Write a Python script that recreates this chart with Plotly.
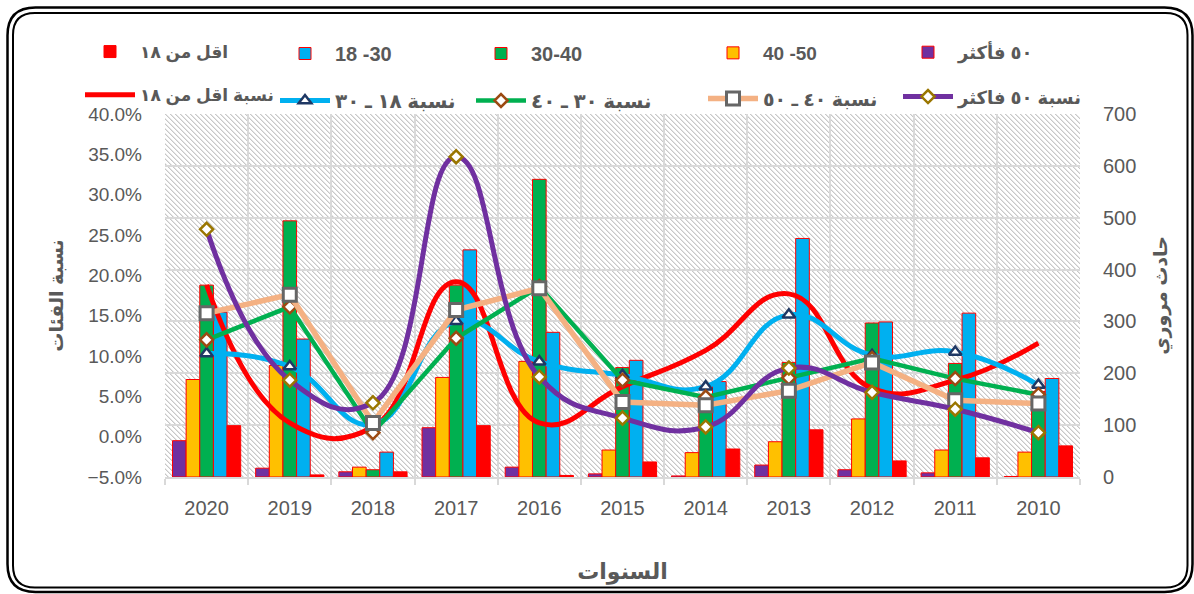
import base64
import struct
import zlib
import plotly.graph_objects as go

# ---------------------------------------------------------------- data
years = ["2020", "2019", "2018", "2017", "2016", "2015",
         "2014", "2013", "2012", "2011", "2010"]

# number of traffic accidents per driver age group (right axis)
count_50_plus = [70, 17, 10, 95, 19, 6, 2, 23, 14, 8, 1]
count_40_50 = [188, 215, 19, 192, 223, 52, 47, 68, 112, 52, 48]
count_30_40 = [370, 494, 14, 370, 574, 211, 153, 221, 297, 219, 165]
count_18_30 = [318, 266, 48, 438, 279, 225, 184, 460, 299, 316, 190]
count_under_18 = [99, 4, 10, 99, 3, 29, 54, 91, 31, 37, 60]

# share of each age group (left axis)
pct_under_18 = [0.188, 0.017, 0.012, 0.192, 0.017, 0.062, 0.107, 0.177, 0.060, 0.070, 0.116]
pct_18_30 = [0.103, 0.087, 0.015, 0.143, 0.093, 0.076, 0.062, 0.151, 0.101, 0.105, 0.064]
pct_30_40 = [0.120, 0.161, 0.005, 0.122, 0.186, 0.070, 0.049, 0.073, 0.097, 0.072, 0.052]
pct_40_50 = [0.153, 0.176, 0.017, 0.157, 0.184, 0.043, 0.039, 0.057, 0.092, 0.045, 0.041]
pct_50_plus = [0.257, 0.070, 0.042, 0.347, 0.074, 0.023, 0.012, 0.085, 0.055, 0.034, 0.005]

pct_ticks = [-0.05, 0.0, 0.05, 0.10, 0.15, 0.20, 0.25, 0.30, 0.35, 0.40]
count_ticks = [0, 100, 200, 300, 400, 500, 600, 700]

# ---------------------------------------------------------------- layout geometry (pixels)
W, H = 1194, 594
ML, MR, MT, MB = 165, 114, 114, 117
PW, PH = W - ML - MR, H - MT - MB


def fx(px):
    return (px - ML) / PW


def fy(py):
    return (H - MB - py) / PH


FONT = "Liberation Sans, DejaVu Sans, sans-serif"
GREY = "#595959"

fig = go.Figure()

# ---------------------------------------------------------------- bars (counts)
bar_specs = [
    ("٥٠ فأكثر", count_50_plus, "#7030A0", "legend5"),
    ("40 -50", count_40_50, "#FFC000", "legend4"),
    ("30-40", count_30_40, "#00B050", "legend3"),
    ("18 -30", count_18_30, "#00B0F0", "legend2"),
    ("اقل من ١٨", count_under_18, "#FF0000", "legend"),
]
for name, vals, col, leg in bar_specs:
    fig.add_trace(go.Bar(
        x=years, y=vals, name=name, legend=leg, legendgroup=name,
        marker=dict(color=col, line=dict(color="#FF0000", width=1)),
        yaxis="y",
    ))

# ---------------------------------------------------------------- lines (shares)
line_specs = [
    ("نسبة اقل من ١٨", pct_under_18, "#FF0000", 5, "spline", None, "legend"),
    ("نسبة ١٨ ـ ٣٠", pct_18_30, "#00B0F0", 5, "spline",
     dict(symbol="triangle-up", size=11, color="white",
          line=dict(color="#1F3864", width=2.5)), "legend2"),
    ("نسبة ٣٠ ـ ٤٠", pct_30_40, "#00B050", 4.5, "linear",
     dict(symbol="diamond", size=10, color="white",
          line=dict(color="#9C4A12", width=2.5)), "legend3"),
    ("نسبة ٤٠ ـ ٥٠", pct_40_50, "#F4B183", 5.5, "linear",
     dict(symbol="square", size=13, color="white",
          line=dict(color="#666666", width=3)), "legend4"),
    ("نسبة ٥٠ فاكثر", pct_50_plus, "#7030A0", 5, "spline",
     dict(symbol="diamond", size=10, color="white",
          line=dict(color="#9A7600", width=2.5)), "legend5"),
]
for name, vals, col, lw, shape, mk, leg in line_specs:
    fig.add_trace(go.Scatter(
        x=years, y=vals, name=name, legend=leg, legendgroup=name,
        mode="lines+markers" if mk else "lines",
        line=dict(color=col, width=lw, shape=shape, smoothing=1.3),
        marker=mk, yaxis="y2",
    ))


# ---------------------------------------------------------------- hatched plot background (PNG texture)
def hatch_png(w, h, period=5):
    rows = []
    for y in range(h):
        row = bytearray(b"\x00")
        for x in range(w):
            d = (x - y) % period
            v = 200 if d == 0 else (228 if d == 1 else 255)
            row += bytes((v, v, v))
        rows.append(bytes(row))
    raw = zlib.compress(b"".join(rows), 9)

    def chunk(tag, data):
        c = struct.pack(">I", len(data)) + tag + data
        return c + struct.pack(">I", zlib.crc32(tag + data) & 0xFFFFFFFF)

    png = (b"\x89PNG\r\n\x1a\n"
           + chunk(b"IHDR", struct.pack(">IIBBBBB", w, h, 8, 2, 0, 0, 0))
           + chunk(b"IDAT", raw) + chunk(b"IEND", b""))
    return "data:image/png;base64," + base64.b64encode(png).decode()


hatch_uri = hatch_png(PW, PH)


# ---------------------------------------------------------------- double rounded frame
def rounded_rect(x0, y0, x1, y1, r):
    p = lambda x, y: f"{fx(x):.5f},{fy(y):.5f}"
    return (f"M {p(x0 + r, y0)} L {p(x1 - r, y0)} Q {p(x1, y0)} {p(x1, y0 + r)} "
            f"L {p(x1, y1 - r)} Q {p(x1, y1)} {p(x1 - r, y1)} "
            f"L {p(x0 + r, y1)} Q {p(x0, y1)} {p(x0, y1 - r)} "
            f"L {p(x0, y0 + r)} Q {p(x0, y0)} {p(x0 + r, y0)} Z")


frame = [
    dict(type="path", xref="paper", yref="paper",
         path=rounded_rect(7.5, 7.5, 1192.5, 592, 28),
         line=dict(color="black", width=2.5)),
    dict(type="path", xref="paper", yref="paper",
         path=rounded_rect(13, 13, 1187.5, 587.5, 22),
         line=dict(color="black", width=2)),
]

# ---------------------------------------------------------------- legends (one column per age group)
legend_cols = [80, 275, 471, 703, 898]
legend_sizes = [17, 20, 20, 19, 18]
legend_keys = ["legend", "legend2", "legend3", "legend4", "legend5"]
legends = {}
for key, cx, fs in zip(legend_keys, legend_cols, legend_sizes):
    legends[key] = dict(
        x=fx(cx), y=fy(34), xanchor="left", yanchor="top",
        orientation="v", itemwidth=50, tracegroupgap=18,
        bgcolor="rgba(0,0,0,0)",
        font=dict(family=FONT, size=fs, color=GREY, weight="bold"),
    )

fig.update_layout(
    width=W, height=H,
    margin=dict(l=ML, r=MR, t=MT, b=MB, pad=0, autoexpand=False),
    paper_bgcolor="white", plot_bgcolor="rgba(0,0,0,0)",
    barmode="group", bargap=0.18, bargroupgap=0,
    font=dict(family=FONT, color=GREY),
    showlegend=True,
    images=[dict(source=hatch_uri, xref="paper", yref="paper", x=0, y=1,
                 sizex=1, sizey=1, xanchor="left", yanchor="top",
                 sizing="stretch", layer="below")],
    shapes=frame,
    xaxis=dict(
        type="category", range=[-0.5, len(years) - 0.5],
        tickson="boundaries", showgrid=True,
        gridcolor="#d9d9d9", gridwidth=1.5,
        ticks="outside", ticklen=6, tickcolor="#d9d9d9", tickwidth=1.5,
        showline=True, linecolor="#d9d9d9", linewidth=1.5,
        tickfont=dict(size=20, color=GREY), ticklabelstandoff=12,
        title=dict(text="السنوات", standoff=46,
                   font=dict(size=22, color=GREY, weight="bold")),
    ),
    yaxis=dict(
        side="right", range=[0, 700], tickvals=count_ticks,
        showgrid=True, gridcolor="#d9d9d9", gridwidth=1.5, zeroline=False,
        tickfont=dict(size=20, color=GREY), ticklabelstandoff=22,
        title=dict(text="حادث مروري", standoff=18,
                   font=dict(size=19, color=GREY, weight="bold")),
    ),
    yaxis2=dict(
        side="left", overlaying="y", range=[-0.05, 0.40], tickvals=pct_ticks,
        tickformat=".1%", showgrid=False, zeroline=False,
        tickfont=dict(size=19, color=GREY), ticklabelstandoff=22,
        title=dict(text="نسبة الفئات", standoff=18,
                   font=dict(size=19, color=GREY, weight="bold")),
    ),
    **legends,
)

fig.write_html("out.html")
